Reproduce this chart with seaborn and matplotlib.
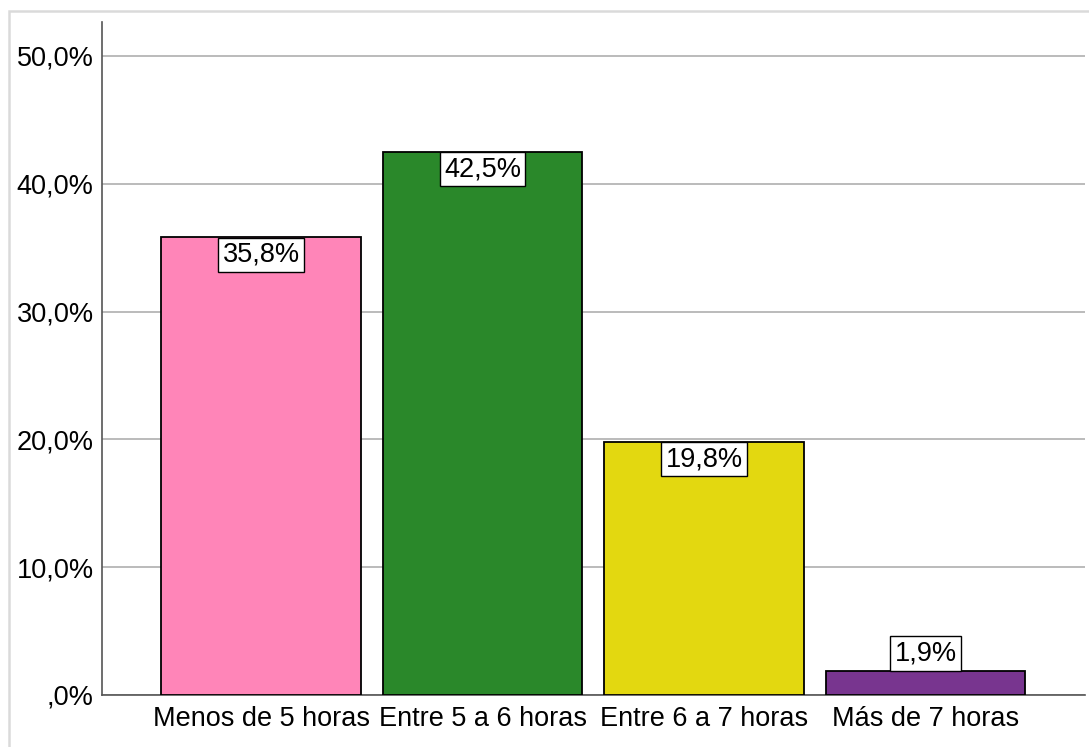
import matplotlib
matplotlib.use("Agg")
import matplotlib.pyplot as plt
import seaborn as sns
import pandas as pd
from matplotlib.patches import Rectangle

# data
categories = ["Menos de 5 horas", "Entre 5 a 6 horas", "Entre 6 a 7 horas", "Más de 7 horas"]
percentages = [35.8, 42.5, 19.8, 1.9]
bar_colors = ["#FF85B8", "#2A882A", "#E3D810", "#78358F"]
y_ticks = [0, 10, 20, 30, 40, 50]
y_tick_labels = [",0%", "10,0%", "20,0%", "30,0%", "40,0%", "50,0%"]

df = pd.DataFrame({"categoria": categories, "porcentaje": percentages})

sns.set_style("white")
plt.rcParams["font.family"] = ["Liberation Sans", "DejaVu Sans"]
plt.rcParams["text.color"] = "black"

FS = 19.5

fig = plt.figure(figsize=(10.89, 7.47), dpi=100)
ax = fig.add_axes([102 / 1089, 1 - 695 / 747, (1085 - 102) / 1089, (695 - 22) / 747])

sns.barplot(data=df, x="categoria", y="porcentaje", hue="categoria",
            palette=bar_colors, legend=False, width=0.9, saturation=1,
            edgecolor="black", linewidth=1.3, ax=ax, zorder=3)

ax.set_xlim(-0.718, 3.72)
ax.set_ylim(0, 52.66)
ax.set_yticks(y_ticks)
ax.set_yticklabels(y_tick_labels)
ax.set_xlabel("")
ax.set_ylabel("")
ax.tick_params(axis="both", length=0, labelsize=FS, colors="black")
ax.tick_params(axis="y", pad=6)
ax.tick_params(axis="x", pad=8)

ax.yaxis.grid(True, color="#A8A8A8", linewidth=1.1, zorder=0)
ax.set_axisbelow(True)
for side in ["top", "right"]:
    ax.spines[side].set_visible(False)
ax.spines["left"].set_color("#555555")
ax.spines["left"].set_linewidth(1.2)
ax.spines["bottom"].set_color("#555555")
ax.spines["bottom"].set_linewidth(1.2)

# value labels in white boxes
for i, v in enumerate(percentages):
    txt = f"{v:.1f}%".replace(".", ",")
    if v > 5:
        off, va = -3, "top"
    else:
        off, va = 3, "bottom"
    ax.annotate(txt, (i, v), xytext=(0, off), textcoords="offset points",
                ha="center", va=va, fontsize=FS, color="black", zorder=5,
                bbox=dict(boxstyle="square,pad=0.15", fc="white", ec="black", lw=1))

# light outer frame
fig.patches.append(Rectangle((9 / 1089, -0.05), 1.2, 1 - 11 / 747 + 0.05,
                             transform=fig.transFigure, fill=False,
                             edgecolor="#DADADA", linewidth=1.8))

fig.savefig("out.png", dpi=100)
